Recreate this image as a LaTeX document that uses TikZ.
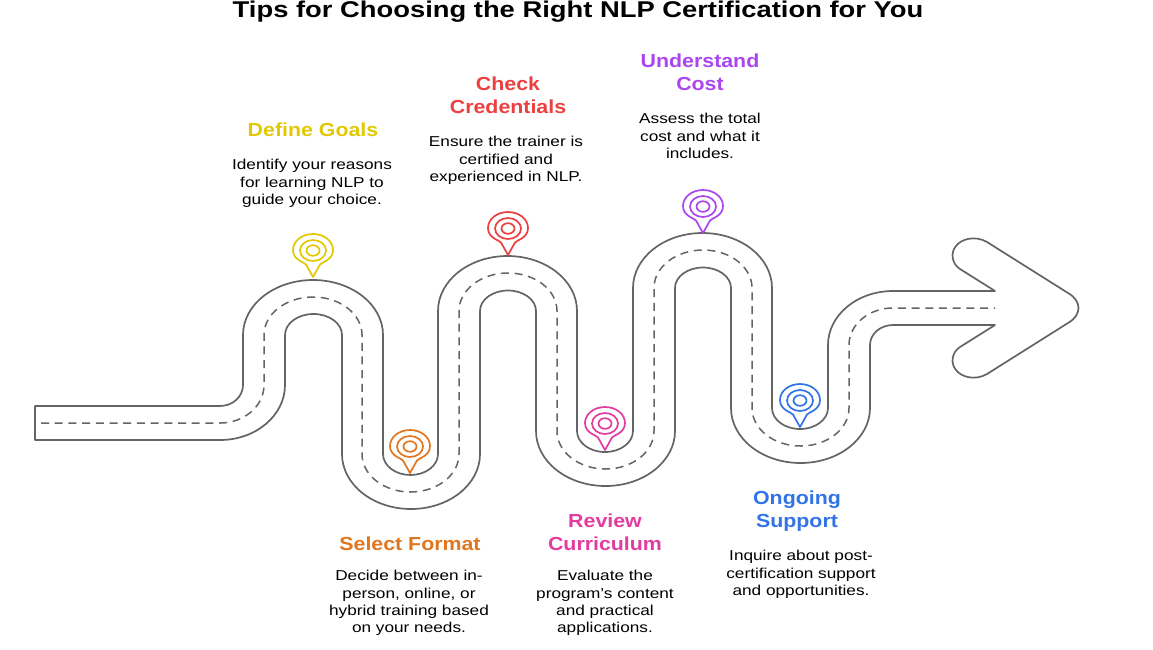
\documentclass[tikz,border=0pt]{standalone}
\usepackage{fontspec}
\setmainfont[FakeStretch=1.2]{Liberation Sans}
\newfontfamily\headfont[FakeStretch=1.13]{Liberation Sans}
\usetikzlibrary{positioning}
\definecolor{roadgray}{RGB}{100,100,100}
\definecolor{goalcolor}{RGB}{226,200,0}
\definecolor{formatcolor}{RGB}{226,118,30}
\definecolor{credcolor}{RGB}{236,64,64}
\definecolor{currcolor}{RGB}{226,60,160}
\definecolor{costcolor}{RGB}{170,70,240}
\definecolor{supportcolor}{RGB}{50,115,232}

\begin{document}
\begin{tikzpicture}[
    x=1pt, y=1pt,
    road/.style={draw=roadgray, line width=1.7pt, line join=round},
    midline/.style={draw=roadgray, line width=1.5pt, dash pattern=on 8pt off 5.7pt},
    head/.style={font=\headfont\bfseries\fontsize{18.9}{23}\selectfont, align=center, anchor=north},
    body/.style={font=\fontsize{14.35}{17.3}\selectfont, align=center, anchor=north, text=black},
    pin/.pic={
        \draw[line width=1.7pt, line join=round, pic actions] (0,0) -- (-7,12.5) .. controls (-9,15) and (-20,17) .. (-20,27) .. controls (-20,36) and (-11,43) .. (0,43) .. controls (11,43) and (20,36) .. (20,27) .. controls (20,17) and (9,15) .. (7,12.5) -- cycle;
        \draw[line width=1.7pt, pic actions] (0,26.5) ellipse[x radius=13, y radius=10.5];
        \draw[line width=1.7pt, pic actions] (0,26.5) ellipse[x radius=6.5, y radius=5.3];
    }
]
    \useasboundingbox (0,0) rectangle (1153,-649);

    % title
    \node[font=\bfseries\fontsize{22.8}{28}\selectfont, anchor=base, inner sep=0pt] (title) at (578,-17.5) {Tips for Choosing the Right NLP Certification for You};

    % road outline
    \draw[road] (35,-440) -- (35,-406) -- (220,-406)
        arc[start angle=-90, end angle=0, x radius=23, y radius=21] -- (243,-335)
        arc[start angle=180, end angle=0, x radius=70, y radius=55] -- (383,-454)
        arc[start angle=180, end angle=360, x radius=27.5, y radius=21] -- (438,-311)
        arc[start angle=180, end angle=0, x radius=69.5, y radius=55] -- (577,-431)
        arc[start angle=180, end angle=360, x radius=28, y radius=21] -- (633,-288)
        arc[start angle=180, end angle=0, x radius=69.5, y radius=55] -- (772,-408)
        arc[start angle=180, end angle=360, x radius=28, y radius=21] -- (828,-345)
        arc[start angle=180, end angle=90, x radius=65, y radius=54] -- (995,-291)
        -- (960,-269) .. controls (952,-264) and (950,-253) .. (956,-246)
        .. controls (961,-239) and (975,-235) .. (987,-242) -- (1068,-293)
        .. controls (1082,-301) and (1082,-315) .. (1068,-323) -- (987,-374)
        .. controls (975,-381) and (961,-377) .. (956,-370)
        .. controls (950,-363) and (952,-352) .. (960,-347) -- (995,-325)
        -- (893,-325)
        arc[start angle=90, end angle=180, x radius=23, y radius=20] -- (870,-408)
        arc[start angle=0, end angle=-180, x radius=69.5, y radius=55] -- (731,-288)
        arc[start angle=0, end angle=180, x radius=28, y radius=20.5] -- (675,-431)
        arc[start angle=0, end angle=-180, x radius=69.5, y radius=55] -- (536,-311)
        arc[start angle=0, end angle=180, x radius=28, y radius=20.5] -- (480,-454)
        arc[start angle=0, end angle=-180, x radius=69, y radius=55] -- (342,-335)
        arc[start angle=0, end angle=180, x radius=28.5, y radius=21] -- (285,-385)
        arc[start angle=0, end angle=-90, x radius=65, y radius=55] -- cycle;

    % dashes along the middle
    \draw[midline] (41,-423) -- (220,-423)
        arc[start angle=-90, end angle=0, x radius=44, y radius=38] -- (264,-335)
        arc[start angle=180, end angle=0, x radius=49, y radius=38] -- (362,-454)
        arc[start angle=180, end angle=360, x radius=48.5, y radius=38] -- (459,-311)
        arc[start angle=180, end angle=0, x radius=49, y radius=38] -- (557,-431)
        arc[start angle=180, end angle=360, x radius=48.5, y radius=38] -- (654,-288)
        arc[start angle=180, end angle=0, x radius=49, y radius=38] -- (752,-408)
        arc[start angle=180, end angle=360, x radius=48.5, y radius=38] -- (849,-345)
        arc[start angle=180, end angle=90, x radius=44, y radius=37] -- (995,-308);

    % pins
    \pic[draw=goalcolor] at (313,-277) {pin};
    \pic[draw=formatcolor] at (410,-473) {pin};
    \pic[draw=credcolor] at (508,-255) {pin};
    \pic[draw=currcolor] at (605,-450) {pin};
    \pic[draw=costcolor] at (703,-233) {pin};
    \pic[draw=supportcolor] at (800,-427) {pin};

    % labels
    \node[head, text=goalcolor] (goal) at (313,-119.5) {Define Goals};
    \node[body] (goaltext) at (312,-156) {Identify your reasons\\for learning NLP to\\guide your choice.};
    \node[head, text=formatcolor] (format) at (410,-533.5) {Select Format};
    \node[body] (formattext) at (409,-567) {Decide between in-\\person, online, or\\hybrid training based\\on your needs.};
    \node[head, text=credcolor] (cred) at (508,-73.5) {Check\\Credentials};
    \node[body] (credtext) at (506,-133) {Ensure the trainer is\\certified and\\experienced in NLP.};
    \node[head, text=currcolor] (curr) at (605,-510.5) {Review\\Curriculum};
    \node[body] (currtext) at (605,-567) {Evaluate the\\program's content\\and practical\\applications.};
    \node[head, text=costcolor] (cost) at (700,-50.5) {Understand\\Cost};
    \node[body] (costtext) at (700,-110) {Assess the total\\cost and what it\\includes.};
    \node[head, text=supportcolor] (support) at (797,-487.5) {Ongoing\\Support};
    \node[body] (supporttext) at (801,-547) {Inquire about post-\\certification support\\and opportunities.};
\end{tikzpicture}
\end{document}
